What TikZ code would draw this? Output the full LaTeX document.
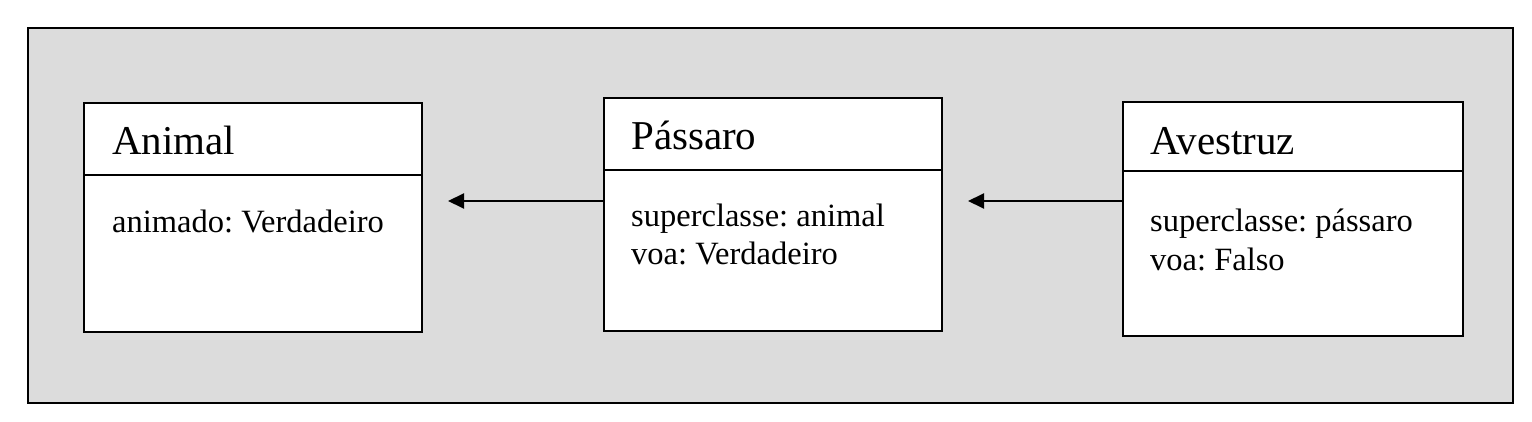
\documentclass[tikz,border=0pt]{standalone}
\usepackage{fontspec}
\setmainfont{Liberation Serif}
\usetikzlibrary{arrows.meta}
\definecolor{bggray}{HTML}{DCDCDC}
\frenchspacing
\tikzset{
  classbox/.style={draw=black, line width=2pt, fill=white},
  divline/.style={draw=black, line width=2pt},
  titletext/.style={anchor=base west, inner sep=0pt, font=\fontsize{41}{41}\selectfont},
  bodytext/.style={anchor=base west, inner sep=0pt, align=left, font=\fontsize{32.5}{38}\selectfont},
  inherit/.style={draw=black, line width=2pt, -{Triangle[length=16pt,width=15pt]}}
}
\begin{document}
\begin{tikzpicture}[x=1pt,y=-1pt]
\useasboundingbox (0,0) rectangle (1532,422);
\node[draw=black, line width=2pt, fill=bggray, minimum width=1485pt, minimum height=375pt, anchor=north west, inner sep=0pt] (frame) at (27,27) {};
% Animal
\node[classbox, anchor=north west, minimum width=338pt, minimum height=229pt, inner sep=0pt] (animal) at (83,102) {};
\draw[divline] (83,175) coordinate (ad1) -- (421,175) coordinate (ad2);
\node[titletext] (animalT) at (112,155) {Animal};
\node[bodytext] (animalB) at (112,233) {animado: Verdadeiro};
% Passaro
\node[classbox, anchor=north west, minimum width=338pt, minimum height=233pt, inner sep=0pt] (passaro) at (603,97) {};
\draw[divline] (603,170) coordinate (pd1) -- (941,170) coordinate (pd2);
\node[titletext] (passaroT) at (631,150) {Pássaro};
\node[bodytext] (passaroB1) at (631,227) {superclasse: animal};
\node[bodytext] (passaroB2) at (631,265) {voa: Verdadeiro};
% Avestruz
\node[classbox, anchor=north west, minimum width=340pt, minimum height=234pt, inner sep=0pt] (avestruz) at (1122,101) {};
\draw[divline] (1122,171) coordinate (vd1) -- (1462,171) coordinate (vd2);
\node[titletext] (avestruzT) at (1150,155) {Avestruz};
\node[bodytext] (avestruzB1) at (1150,232) {superclasse: pássaro};
\node[bodytext] (avestruzB2) at (1150,270) {voa: Falso};
% arrows
\coordinate (tipA) at (448,201);
\coordinate (tipB) at (968,201);
\draw[inherit] (passaro.west |- tipA) -- (tipA);
\draw[inherit] (avestruz.west |- tipB) -- (tipB);
\end{tikzpicture}
\end{document}
